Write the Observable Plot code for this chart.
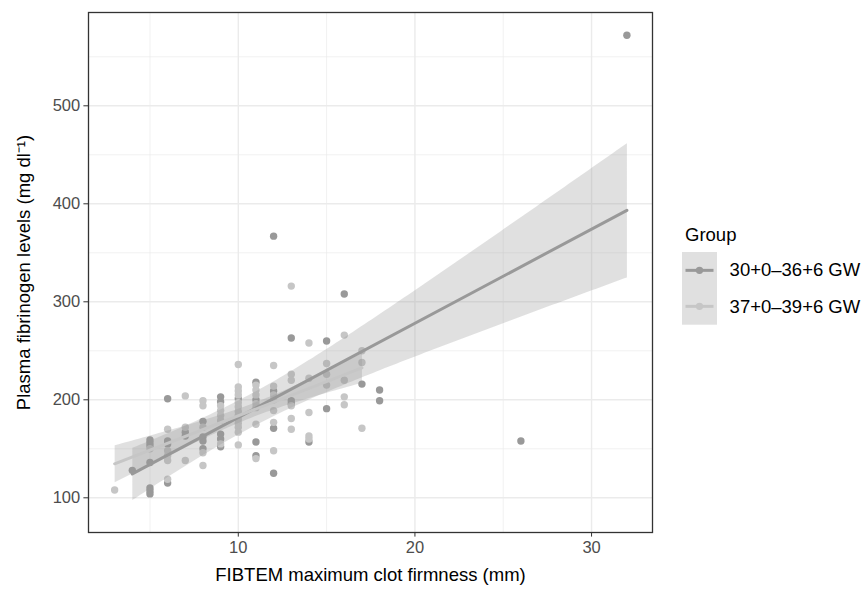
<!DOCTYPE html>
<html>
<head>
<meta charset="utf-8">
<script src="https://cdn.jsdelivr.net/npm/d3@7"></script>
<script src="https://cdn.jsdelivr.net/npm/@observablehq/plot@0.6"></script>
<style>
  body { margin: 0; background: #fff; font-family: "Liberation Sans", Arial, Helvetica, sans-serif; }
  #wrap { position: relative; width: 863px; height: 589px; overflow: hidden; }
  #wrap > svg { position: absolute; left: 0; top: 0; }
  #wrap > svg text { font-family: "Liberation Sans", Arial, Helvetica, sans-serif; }
  [aria-label="x-axis label"] text, [aria-label="y-axis label"] text { fill: #000; font-size: 18.5px; }
  [aria-label="x-axis tick label"] text, [aria-label="y-axis tick label"] text { fill: #4d4d4d; font-size: 16.5px; }
  #legend { position: absolute; left: 682px; top: 224px; font-family: "Liberation Sans", Arial, Helvetica, sans-serif; color: #000; }
  #legend .lt { font-size: 18.5px; line-height: 22px; height: 22px; margin-bottom: 5.7px; padding-left: 3px; }
  #legend .row { display: flex; align-items: center; height: 36.7px; }
  #legend .row svg { display: block; flex: none; }
  #legend .row span { font-size: 18.5px; margin-left: 12.6px; white-space: nowrap; }
</style>
</head>
<body>
<div id="wrap"></div>
<script>
// ---- data ----
const groups = ["30+0\u201336+6 GW", "37+0\u201339+6 GW"];
const groupColors = ["#999999", "#c6c6c6"];
const legendTitle = "Group";

// 30+0–36+6 GW (darker points)
const earlyX = [4, 5, 5, 5, 5, 5, 5, 5, 6, 6, 6, 6, 7, 7, 8, 8, 8, 8, 9, 9, 9, 9, 9, 10,
                11, 11, 11, 11, 12, 12, 12, 12, 13, 13, 13, 14, 15, 15, 16, 17, 18, 18, 26, 32];
const earlyY = [128, 159, 156, 153, 136, 110, 107, 104, 201, 158, 155, 115, 167, 163, 178, 162, 158, 150,
                203, 198, 165, 160, 152, 201, 218, 200, 157, 143, 367, 209, 171, 125, 263, 199, 196,
                157, 260, 191, 308, 216, 210, 199, 158, 572];

// 37+0–39+6 GW (lighter points)
const lateX = [3, 5, 6, 6, 6, 6, 6, 7, 7, 7, 8, 8, 8, 8, 8, 9, 9, 9, 9, 9,
               10, 10, 10, 10, 10, 10, 10, 10, 10, 10, 10, 10, 10,
               11, 11, 11, 11, 11, 11, 11, 12, 12, 12, 12, 12, 12, 12,
               13, 13, 13, 13, 13, 13, 14, 14, 14, 14, 14, 15, 15, 15, 16, 16, 16, 16, 17, 17, 17];
const lateY = [108, 150, 170, 148, 143, 138, 119, 204, 172, 138, 199, 194, 172, 146, 133, 194, 189, 184, 179, 155,
               236, 213, 209, 205, 197, 193, 188, 184, 180, 176, 172, 167, 154,
               215, 210, 205, 196, 192, 175, 140, 235, 214, 205, 200, 189, 177, 148,
               316, 226, 220, 194, 181, 170, 258, 222, 187, 163, 160, 237, 226, 215, 266, 220, 203, 195, 250, 238, 171];

const xTicks = [10, 20, 30];
const yTicks = [100, 200, 300, 400, 500];
const xMinor = [5, 15, 25];
const yMinor = [150, 250, 350, 450, 550];
const xLabel = "FIBTEM maximum clot firmness (mm)";
const yLabel = "Plasma fibrinogen levels (mg dl\u207B\u00B9)";

// ---- table for Plot ----
const data = [
  ...earlyX.map((x, i) => ({x, y: earlyY[i], group: groups[0]})),
  ...lateX.map((x, i) => ({x, y: lateY[i], group: groups[1]}))
];

const chart = Plot.plot({
  width: 863,
  height: 589,
  marginLeft: 88,
  marginRight: 211,
  marginTop: 12,
  marginBottom: 57,
  style: {background: "transparent", fontSize: "16.5px", fontFamily: "Liberation Sans, Arial, sans-serif"},
  x: {domain: [1.52, 33.45]},
  y: {domain: [64.6, 595.2]},
  color: {domain: groups, range: groupColors},
  marks: [
    Plot.gridX(xMinor, {stroke: "#ebebeb", strokeOpacity: 1, strokeWidth: 0.7}),
    Plot.gridY(yMinor, {stroke: "#ebebeb", strokeOpacity: 1, strokeWidth: 0.7}),
    Plot.gridX(xTicks, {stroke: "#ebebeb", strokeOpacity: 1, strokeWidth: 1.4}),
    Plot.gridY(yTicks, {stroke: "#ebebeb", strokeOpacity: 1, strokeWidth: 1.4}),
    Plot.dot(data, {x: "x", y: "y", fill: "group", r: 3.7}),
    Plot.linearRegressionY(data, {x: "x", y: "y", z: "group", stroke: "group", fill: "#999999",
                                  fillOpacity: 0.3, strokeWidth: 3, ci: 0.95}),
    Plot.frame({stroke: "#333333", strokeWidth: 1.3}),
    Plot.axisX(xTicks, {tickSize: 4.6, tickPadding: 3.7, stroke: "#333333", color: "#4d4d4d",
                        label: xLabel, labelAnchor: "center", labelArrow: "none", labelOffset: 48}),
    Plot.axisY(yTicks, {tickSize: 4.6, tickPadding: 3.7, stroke: "#333333", color: "#4d4d4d",
                        label: yLabel, labelAnchor: "center", labelArrow: "none", labelOffset: 72})
  ]
});
const wrap = document.getElementById("wrap");
wrap.appendChild(chart);

// ---- legend ----
const legend = document.createElement("div");
legend.id = "legend";
const lt = document.createElement("div");
lt.className = "lt";
lt.textContent = legendTitle;
legend.appendChild(lt);
groups.forEach((g, i) => {
  const row = document.createElement("div");
  row.className = "row";
  const svg = d3.create("svg").attr("width", 35).attr("height", 36.7);
  svg.append("rect").attr("width", 35).attr("height", 36.7).attr("fill", "rgba(153,153,153,0.3)");
  svg.append("line").attr("x1", 3.5).attr("x2", 31.5).attr("y1", 18.35).attr("y2", 18.35)
     .attr("stroke", groupColors[i]).attr("stroke-width", 3);
  svg.append("circle").attr("cx", 17.5).attr("cy", 18.35).attr("r", 3.7).attr("fill", groupColors[i]);
  row.appendChild(svg.node());
  const sp = document.createElement("span");
  sp.textContent = g;
  row.appendChild(sp);
  legend.appendChild(row);
});
wrap.appendChild(legend);
</script>
</body>
</html>
